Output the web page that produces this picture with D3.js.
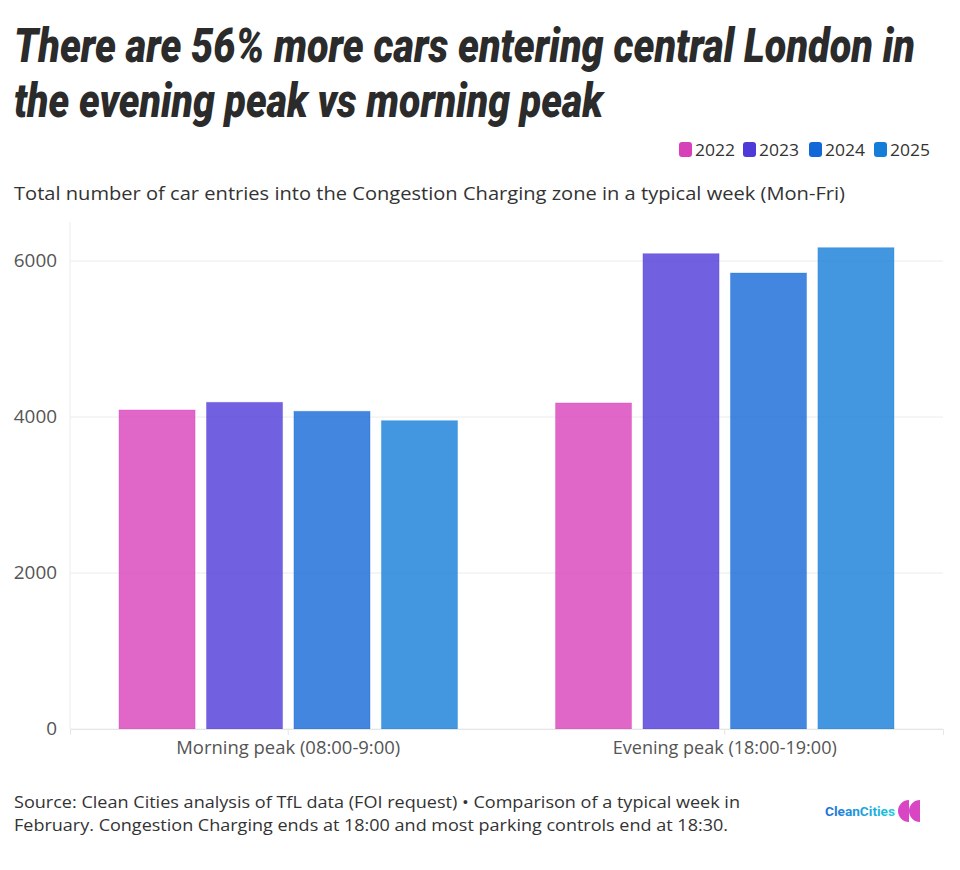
<!DOCTYPE html>
<html>
<head>
<meta charset="utf-8">
<script src="https://cdn.jsdelivr.net/npm/d3@7"></script>
<style>
  html, body { margin: 0; padding: 0; background: #fff; }
  svg { display: block; }
</style>
</head>
<body>
<svg id="chart" width="960" height="870"></svg>
<script>
// ---- data ----
const categories = ["Morning peak (08:00-9:00)", "Evening peak (18:00-19:00)"];
const years = ["2022", "2023", "2024", "2025"];
const values2022 = [4090, 4180];
const values2023 = [4188, 6094];
const values2024 = [4073, 5846];
const values2025 = [3953, 6171];
const yTicks = [0, 2000, 4000, 6000];
const colors = ["#D840BA", "#4E3AD8", "#1368D8", "#137DD8"];

const titleLines = [
  "There are 56% more cars entering central London in",
  "the evening peak vs morning peak"
];
const subtitle = "Total number of car entries into the Congestion Charging zone in a typical week (Mon-Fri)";
const sourceLines = [
  "Source: Clean Cities analysis of TfL data (FOI request) \u2022 Comparison of a typical week in",
  "February. Congestion Charging ends at 18:00 and most parking controls end at 18:30."
];

const series = [values2022, values2023, values2024, values2025];
const rows = categories.map((c, i) => ({
  cat: c,
  vals: years.map((y, j) => ({ year: y, value: series[j][i], color: colors[j] }))
}));

(function () {
const svg = d3.select("#chart");
const font = "'Open Sans', 'Noto Sans', sans-serif";

// ---- title (condensed look: smaller font stretched vertically) ----
const titleWidths = [901, 589];
svg.selectAll("text.title").data(titleLines).join("text")
  .attr("class", "title")
  .attr("transform", (d, i) => `translate(14,${62 + i * 55}) scale(1,1.35)`)
  .attr("x", 0).attr("y", 0)
  .attr("textLength", (d, i) => titleWidths[i])
  .attr("lengthAdjust", "spacingAndGlyphs")
  .style("font-family", "Roboto, 'Open Sans', sans-serif")
  .style("font-weight", 900)
  .style("font-style", "italic")
  .style("font-size", "35.5px")
  .style("fill", "#2b2b2b")
  .text(d => d);

// ---- legend ----
const legendX = [679, 743, 809, 874];
const lg = svg.selectAll("g.legend").data(years).join("g")
  .attr("class", "legend")
  .attr("transform", (d, i) => `translate(${legendX[i]},142)`);
lg.append("rect")
  .attr("width", 13).attr("height", 15).attr("rx", 3)
  .attr("fill", (d, i) => colors[i]);
lg.append("text")
  .attr("x", 16).attr("y", 14)
  .attr("textLength", 40).attr("lengthAdjust", "spacingAndGlyphs")
  .style("font-family", font).style("font-size", "17px").style("fill", "#333")
  .text(d => d);

// ---- subtitle ----
svg.append("text")
  .attr("x", 14).attr("y", 200)
  .attr("textLength", 831).attr("lengthAdjust", "spacingAndGlyphs")
  .style("font-family", font).style("font-size", "17.5px").style("font-weight", 500)
  .style("fill", "#333")
  .text(subtitle);

// ---- scales ----
const pLeft = 70, pRight = 943, pTop = 222, pBottom = 729;
const x0 = d3.scaleBand().domain(categories).range([pLeft, pRight]).padding(0);
const x1 = d3.scaleBand().domain(years).range([0, x0.bandwidth()])
  .paddingInner(0.13).paddingOuter(0.56);
const y = d3.scaleLinear().domain([0, 6500]).range([pBottom, pTop]);

// grid
svg.append("g").selectAll("line").data(yTicks).join("line")
  .attr("x1", pLeft).attr("x2", pRight)
  .attr("y1", d => y(d)).attr("y2", d => y(d))
  .attr("stroke", "#ececec").attr("stroke-width", 1);
// y axis line
svg.append("line")
  .attr("x1", pLeft).attr("x2", pLeft).attr("y1", pTop).attr("y2", pBottom)
  .attr("stroke", "#ececec");

// y axis labels
const yAxis = d3.axisLeft(y).tickValues(yTicks).tickSize(0).tickPadding(13).tickFormat(d3.format("d"));
const ya = svg.append("g").attr("transform", `translate(${pLeft},0)`).call(yAxis);
ya.select(".domain").remove();
ya.selectAll("text").style("font-family", font).style("font-size", "17.5px").style("fill", "#555")
  .attr("textLength", d => String(d).length * 10.8).attr("lengthAdjust", "spacingAndGlyphs");

// bars
const groups = svg.append("g").selectAll("g").data(rows).join("g")
  .attr("transform", d => `translate(${x0(d.cat)},0)`);
groups.selectAll("rect").data(d => d.vals).join("rect")
  .attr("x", d => x1(d.year))
  .attr("width", x1.bandwidth())
  .attr("y", d => y(d.value))
  .attr("height", d => y(0) - y(d.value))
  .attr("fill", d => d.color)
  .attr("fill-opacity", 0.8)
  .attr("stroke", d => d.color)
  .attr("stroke-opacity", 0.3)
  .attr("stroke-width", 1);

// x axis
const xAxis = d3.axisBottom(x0).tickSize(6).tickPadding(7);
const xa = svg.append("g").attr("transform", `translate(0,${pBottom})`).call(xAxis);
xa.select(".domain").attr("stroke", "#e6e6e6");
xa.selectAll(".tick line").attr("stroke", "#e6e6e6");
xa.selectAll("text").style("font-family", font).style("font-size", "17.5px").style("fill", "#555")
  .attr("textLength", 224).attr("lengthAdjust", "spacingAndGlyphs");

// ---- source ----
svg.selectAll("text.source").data(sourceLines).join("text")
  .attr("class", "source")
  .attr("x", 14)
  .attr("y", (d, i) => 808 + i * 23)
  .attr("textLength", (d, i) => [726, 714][i])
  .attr("lengthAdjust", "spacingAndGlyphs")
  .style("font-family", font).style("font-size", "16.5px").style("fill", "#333")
  .text(d => d);

// ---- logo ----
const defs = svg.append("defs");
const grad = defs.append("linearGradient").attr("id", "logoGrad")
  .attr("x1", "0%").attr("x2", "100%");
grad.append("stop").attr("offset", "0%").attr("stop-color", "#1f6fd9");
grad.append("stop").attr("offset", "100%").attr("stop-color", "#1ccbe0");
svg.append("text")
  .attr("x", 825).attr("y", 816)
  .attr("textLength", 70).attr("lengthAdjust", "spacingAndGlyphs")
  .style("font-family", "Roboto, sans-serif").style("font-weight", 700).style("font-size", "13.5px")
  .attr("fill", "url(#logoGrad)")
  .text("CleanCities");
const half = d3.arc().innerRadius(0).outerRadius(11).startAngle(Math.PI).endAngle(2 * Math.PI);
[909, 920].forEach(cx => {
  svg.append("path").attr("d", half()).attr("transform", `translate(${cx},811)`).attr("fill", "#d946c4");
});
})();
</script>
</body>
</html>
